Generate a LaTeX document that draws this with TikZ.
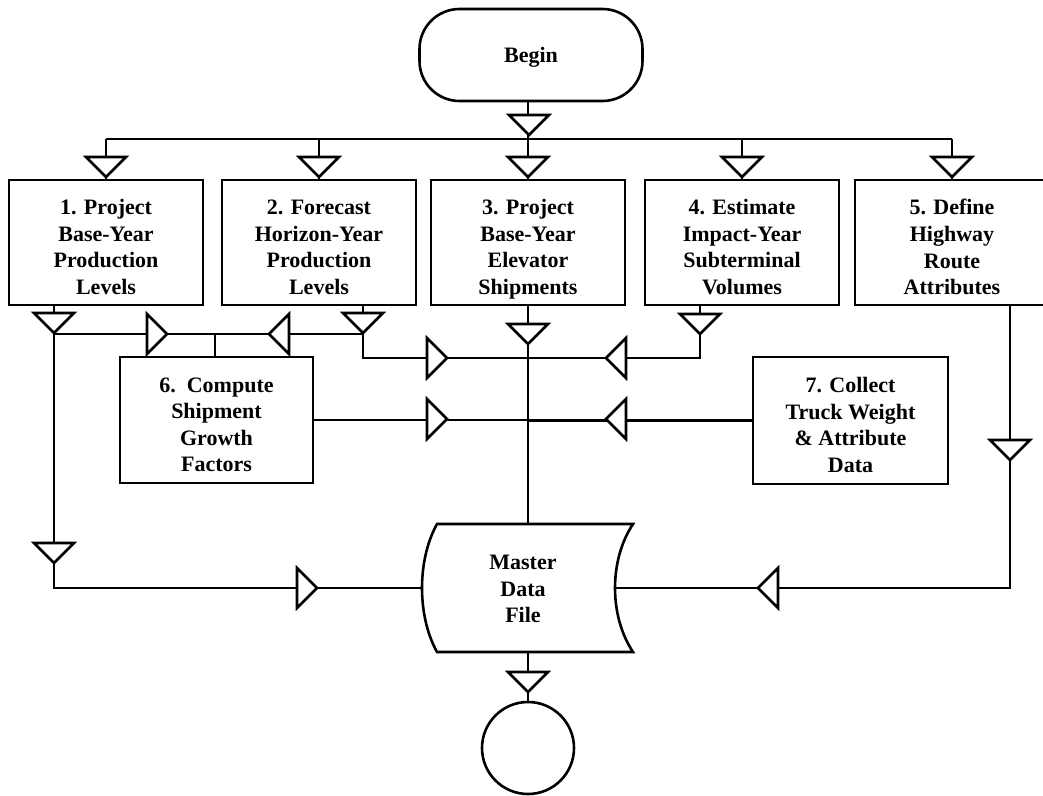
\documentclass[tikz,border=0pt]{standalone}
\usepackage{fontspec}
\setmainfont{Liberation Serif}
\begin{document}
\begin{tikzpicture}[x=1pt,y=-1pt, line width=2.6pt,
 every node/.style={font=\fontsize{22}{26.5}\selectfont\bfseries, align=center},
 box/.style={draw, minimum width=194, minimum height=125, inner sep=0},
 boxtext/.style={yshift=-4.5pt, inner sep=0, text depth=0pt},
 tri/.style={draw, fill=white, line join=miter},
 tdown/.pic={\draw[tri] (-20,0) -- (20,0) -- (0,20) -- cycle;},
 tright/.pic={\draw[tri] (0,-20) -- (0,20) -- (20,0) -- cycle;},
 tleft/.pic={\draw[tri] (0,0) -- (20,-20) -- (20,20) -- cycle;},
]
\useasboundingbox (0,0) rectangle (1043,795);

% nodes
\node[draw, rounded corners=40, minimum width=223, minimum height=92] (begin) at (531,55) {};
\node[inner sep=0] (tbegin) at ([yshift=-2pt]begin.center) {Begin};
\node[box] (b1) at (106,242.5) {};
\node[box] (b2) at (319,242.5) {};
\node[box] (b3) at (528,242.5) {};
\node[box] (b4) at (742,242.5) {};
\node[box] (b5) at (952,242.5) {};
\node[box, minimum width=193, minimum height=126] (b6) at (216.5,420) {};
\node[box, minimum width=195, minimum height=127] (b7) at (850.5,420.5) {};
\node[boxtext] (t1) at (b1) {1. Project\\Base-Year\\Production\\Levels};
\node[boxtext] (t2) at (b2) {2. Forecast\\Horizon-Year\\Production\\Levels};
\node[boxtext] (t3) at (b3) {3. Project\\Base-Year\\Elevator\\Shipments};
\node[boxtext] (t4) at (b4) {4. Estimate\\Impact-Year\\Subterminal\\Volumes};
\node[boxtext] (t5) at (b5) {5. Define\\Highway\\Route\\Attributes};
\node[boxtext] (t6) at (b6) {6.\ \ Compute\\Shipment\\Growth\\Factors};
\node[boxtext] (t7) at (b7) {7. Collect\\Truck Weight\\\& Attribute\\Data};
\node (file) at (523,589) {Master\\Data\\File};
\node[draw, circle, minimum size=92, inner sep=0] (endc) at (528,748) {};

% master data file shape
\draw (437,524) -- (633,524) .. controls (609,560) and (609,616) .. (633,652)
      -- (437,652) .. controls (417,616) and (417,560) .. (437,524) -- cycle;
\coordinate (fN) at (528,524);
\coordinate (fW) at (422,588);
\coordinate (fE) at (615,588);
\coordinate (fS) at (528,652);

% junction coordinates
\coordinate (bus) at (528,139);
\coordinate (j1) at (54,334);
\coordinate (c1) at (54,588);
\coordinate (j6) at (215,334);
\coordinate (j2) at (363,334);
\coordinate (k2) at (363,358);
\coordinate (j4) at (700,358);
\coordinate (j5) at (1010,588);

% connectors
\draw (bus |- begin.south) -- (bus);
\draw (b1.north |- bus) -- (b5.north |- bus);
\foreach \n in {b1,b2,b3,b4,b5} \draw (\n.north |- bus) -- (\n.north);
\draw (b1.south -| j1) -- (j1) -- (c1) -- (fW);
\draw (j1) -- (j6) -- (b6.north -| j6);
\draw (b2.south -| j2) -- (k2) -- (k2 -| fN);
\draw (j2) -- (j6);
\draw (b3.south -| fN) -- (fN);
\draw (b4.south -| j4) -- (j4) -- (j4 -| fN);
\draw (b6.east) -- (b6.east -| fN);
\draw (b7.west) -- (b7.west -| fN);
\draw (b5.south -| j5) -- (j5) -- (fE);
\draw (fS) -- (endc.north);

% flow triangles
\pic at (529,115) {tdown};
\foreach \n in {b1,b2,b3,b4,b5} \pic at (\n.north |- 0,157) {tdown};
\pic at (54,313) {tdown};
\pic at (363,313) {tdown};
\pic at (528,324) {tdown};
\pic at (700,314) {tdown};
\pic at (54,543) {tdown};
\pic at (1010,440) {tdown};
\pic at (528,672) {tdown};
\pic at (147,334) {tright};
\pic at (269,334) {tleft};
\pic at (427,358) {tright};
\pic at (606,358) {tleft};
\pic at (427,419) {tright};
\pic at (606,419) {tleft};
\pic at (297,588) {tright};
\pic at (758,588) {tleft};
\end{tikzpicture}
\end{document}
